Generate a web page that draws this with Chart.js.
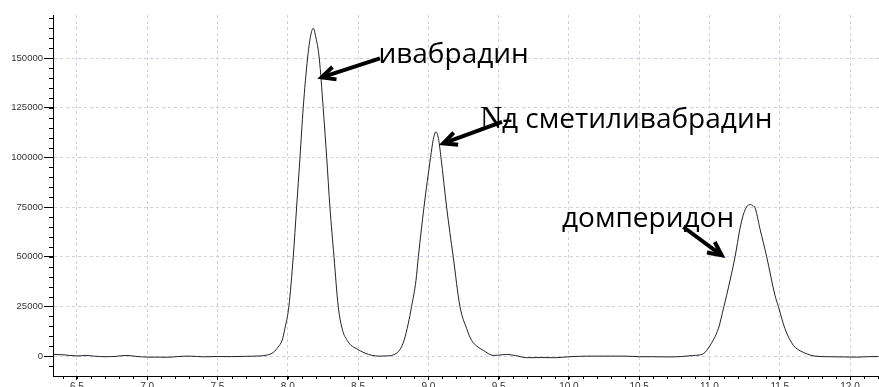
<!DOCTYPE html>
<html><head><meta charset="utf-8">
<script src="https://cdn.jsdelivr.net/npm/chart.js@4"></script>
<style>html,body{margin:0;padding:0;background:#fff;overflow:hidden}</style>
</head><body>
<canvas id="c" width="879" height="387"></canvas>
<script>
// Retention time (min)
const times = [6.33,6.40,6.50,6.57,6.62,6.70,6.78,6.85,6.92,7.00,7.08,7.15,7.22,7.30,7.40,7.50,7.60,7.70,7.80,7.85,7.90,7.93,7.96,7.98,
  8.008,8.039,8.063,8.087,8.110,8.141,8.162,8.181,8.200,8.224,8.252,8.277,8.300,8.329,8.359,8.39,8.423,8.45,8.49,8.55,8.60,8.65,8.70,8.75,8.80,
  8.827,8.857,8.881,8.912,8.929,8.969,9.016,9.035,9.054,9.072,9.090,9.130,9.177,9.225,9.273,9.308,9.345,9.391,9.462,9.50,9.557,9.62,9.70,9.80,9.90,
  10.00,10.15,10.30,10.40,10.50,10.60,10.70,10.80,10.88,10.956,11.004,11.063,11.103,11.122,11.182,11.217,11.24,11.263,11.276,11.293,11.312,11.322,
  11.359,11.407,11.466,11.490,11.537,11.597,11.65,11.690,11.75,11.85,11.95,12.05,12.12,12.20];
// Detector signal
const signal = [850,700,100,350,0,-300,-100,350,-100,-500,-500,-550,-200,0,-350,-200,-250,-100,100,500,2000,4500,8000,14000,
  25000,50000,75000,100000,125000,150000,161000,165000,160500,150000,125000,100000,75000,50000,25000,13000,7900,5500,3700,1500,400,0,100,600,3500,
  7900,16300,25000,38000,50000,75000,100000,109000,112900,109500,100000,75000,50000,25000,13800,7900,5000,2900,350,500,850,300,-800,-700,-800,
  -300,0,0,0,-300,-300,-400,-200,300,1200,5400,13800,25000,30600,50000,64200,71000,75000,76000,76300,75500,75000,
  64200,50000,30600,25000,13800,5400,2500,1200,0,-300,-400,-500,-300,-200];
const xTickValues = [6.5,7.0,7.5,8.0,8.5,9.0,9.5,10.0,10.5,11.0,11.5,12.0];
const yTickValues = [0,25000,50000,75000,100000,125000,150000];
const xTickLabels = ['6.5','7.0','7.5','8.0','8.5','9.0','9.5','10.0','10.5','11.0','11.5','12.0'];
const peakNames = ['ивабрадин','д сметиливабрадин','домперидон'];

const annotations = [
  {text: peakNames[0], at:[8.645,147700], tail:[8.656,149900], tip:[8.241,140300]},
  {text: peakNames[1], at:[9.524,114600], tail:[9.524,117900], tip:[9.106,107100], prefix:'N-', prefixAt:[9.367,114600]},
  {text: peakNames[2], at:[9.951,65000], tail:[10.814,65000], tip:[11.087,50750]}
];

const GRID = '#cfcfe8';
const minorTicks = {
  id:'minorTicks',
  afterDraw(chart){
    const {ctx} = chart; const xs = chart.scales.x, ys = chart.scales.y;
    ctx.save(); ctx.strokeStyle='#000'; ctx.lineWidth=1;
    ctx.beginPath();
    for(let i=-1;i<=34;i++){ const v=i*5000; if(v<ys.min||v>ys.max) continue;
      const p=Math.round(ys.getPixelForValue(v))+0.5; ctx.moveTo(xs.left-4,p); ctx.lineTo(xs.left,p);}
    for(let i=64;i<=122;i++){ const v=i/10; if(v<xs.min||v>xs.max) continue;
      const p=Math.round(xs.getPixelForValue(v))+0.5; ctx.moveTo(p,ys.bottom); ctx.lineTo(p,ys.bottom+3);}
    ctx.stroke(); ctx.restore();
  }
};
const notes = {
  id:'notes',
  afterDatasetsDraw(chart){
    const {ctx} = chart; const xs = chart.scales.x, ys = chart.scales.y;
    const P = a => [xs.getPixelForValue(a[0]), ys.getPixelForValue(a[1])];
    ctx.save();
    ctx.fillStyle='#000'; ctx.textBaseline='alphabetic'; ctx.textAlign='left';
    for(const a of annotations){
      ctx.font='28px "Open Sans"';
      const [tx,ty]=P(a.at); ctx.fillText(a.text,tx,ty);
      if(a.prefix){ ctx.font='31px "Liberation Serif"'; const [px,py]=P(a.prefixAt); ctx.fillText(a.prefix,px,py); }
      const [x1,y1]=P(a.tail), [x2,y2]=P(a.tip);
      ctx.strokeStyle='#000'; ctx.lineWidth=4; ctx.lineCap='butt'; ctx.lineJoin='miter';
      ctx.beginPath(); ctx.moveTo(x1,y1); ctx.lineTo(x2,y2); ctx.stroke();
      const ang=Math.atan2(y1-y2,x1-x2), L=15, s=0.45;
      ctx.beginPath();
      ctx.moveTo(x2+L*Math.cos(ang+s), y2+L*Math.sin(ang+s)); ctx.lineTo(x2,y2);
      ctx.lineTo(x2+L*Math.cos(ang-s), y2+L*Math.sin(ang-s)); ctx.stroke();
    }
    ctx.restore();
  }
};

new Chart(document.getElementById('c'), {
  type:'line',
  data:{datasets:[{data: times.map((t,i)=>({x:t,y:signal[i]})), borderColor:'#222', borderWidth:1, pointRadius:0,
    cubicInterpolationMode:'monotone', fill:false}]},
  options:{
    responsive:false, animation:false, devicePixelRatio:1,
    layout:{padding:{top:15,left:0,right:0,bottom:0}},
    plugins:{legend:{display:false}, tooltip:{enabled:false}},
    scales:{
      x:{type:'linear', min:6.33, max:12.206,
        afterBuildTicks:s=>{s.ticks=xTickValues.map(v=>({value:v}));},
        afterFit:s=>{s.height=11;},
        ticks:{autoSkip:false, maxRotation:0, padding:1, color:'#333', font:{family:'Liberation Sans', size:10},
          callback:(v)=>{const i=xTickValues.indexOf(v); return i>=0?xTickLabels[i]:'';}},
        grid:{color:GRID, lineWidth:1, tickColor:'#000', tickLength:4},
        border:{display:true, color:'#000', width:1, dash:[3,3]}
      },
      y:{type:'linear', min:-10000, max:171700,
        afterBuildTicks:s=>{s.ticks=yTickValues.map(v=>({value:v}));},
        afterFit:s=>{s.width=53;},
        ticks:{padding:1, color:'#333', font:{family:'Liberation Sans', size:9.5}, callback:v=>String(v)},
        grid:{color:GRID, lineWidth:1, tickColor:'#000', tickLength:9},
        border:{display:true, color:'#000', width:1, dash:[3,3]}
      }
    }
  },
  plugins:[minorTicks, notes]
});
</script>
</body></html>
